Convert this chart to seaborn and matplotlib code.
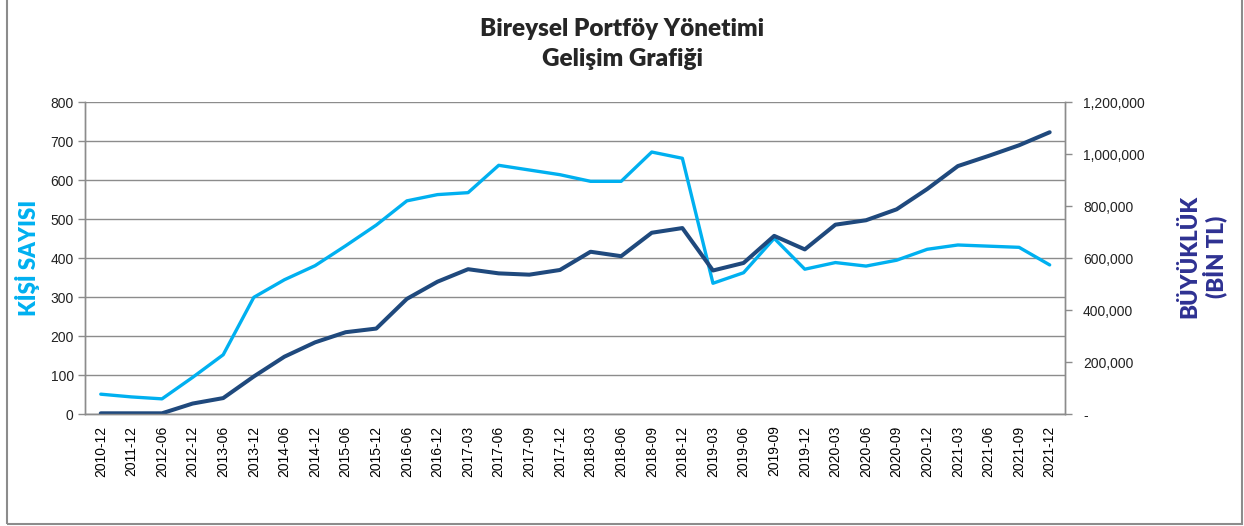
"""Bireysel portföy yönetimi gelişim grafiği: kişi sayısı ve büyüklük."""

import matplotlib.pyplot as plt
import numpy as np
import pandas as pd
import seaborn as sns
from matplotlib.patches import Rectangle
from matplotlib.ticker import FuncFormatter

PERIODS = [
    "2010-12", "2011-12", "2012-06", "2012-12", "2013-06", "2013-12",
    "2014-06", "2014-12", "2015-06", "2015-12", "2016-06", "2016-12",
    "2017-03", "2017-06", "2017-09", "2017-12", "2018-03", "2018-06",
    "2018-09", "2018-12", "2019-03", "2019-06", "2019-09", "2019-12",
    "2020-03", "2020-06", "2020-09", "2020-12", "2021-03", "2021-06",
    "2021-09", "2021-12",
]

# kişi sayısı (sol eksen)
KISI_SAYISI = [
    52, 45, 40, 95, 153, 300,
    345, 381, 432, 485, 547, 563,
    568, 638, 626, 614, 597, 597,
    672, 656, 336, 363, 451, 372,
    389, 380, 395, 423, 434, 431,
    428, 383,
]

# büyüklük, bin TL (sağ eksen)
BUYUKLUK = [
    4500, 4500, 4500, 42000, 63000, 146000,
    222000, 277000, 316000, 330000, 444000, 510000,
    558000, 542000, 537000, 555000, 625000, 608000,
    698000, 716000, 553000, 582000, 686000, 634000,
    729000, 746000, 788000, 866000, 954000, 993000,
    1034000, 1084000,
]

LIGHT_BLUE = "#00B0F0"
DARK_BLUE = "#1F497D"
GRID_GREY = "#8C8C8C"


def main() -> None:
    df = pd.DataFrame({"donem": PERIODS, "kisi": KISI_SAYISI, "buyukluk": BUYUKLUK})

    sns.set_theme(style="white")
    plt.rcParams["font.family"] = ["Liberation Sans", "DejaVu Sans"]

    fig = plt.figure(figsize=(12.44, 5.26), dpi=100)
    ax = fig.add_axes([0.0687, 0.212, 0.7874, 0.594])
    ax2 = ax.twinx()

    sns.lineplot(data=df, x="donem", y="kisi", ax=ax, color=LIGHT_BLUE, lw=2.4, sort=False)
    sns.lineplot(data=df, x="donem", y="buyukluk", ax=ax2, color=DARK_BLUE, lw=2.9, sort=False)

    n = len(PERIODS)
    ax.set_xlim(-0.5, n - 0.5)
    ax.set_ylim(0, 800)
    ax.set_yticks(np.arange(0, 801, 100))
    ax2.set_ylim(0, 1_200_000)
    ax2.set_yticks(np.arange(0, 1_200_001, 200_000))
    ax2.yaxis.set_major_formatter(
        FuncFormatter(lambda v, _: "-" if v == 0 else f"{v:,.0f}")
    )

    ax.grid(axis="y", color=GRID_GREY, lw=1)
    ax.set_axisbelow(True)
    ax.set_xticks(range(n))
    ax.set_xticklabels(PERIODS, rotation=90)
    ax.set_xticks(np.arange(-0.5, n), minor=True)
    ax.tick_params(axis="x", which="major", length=0, pad=8, labelsize=10, colors="black")
    ax.tick_params(axis="x", which="minor", length=5, width=1, color=GRID_GREY)
    ax.tick_params(axis="y", length=5, width=1, color=GRID_GREY, labelsize=10,
                   labelcolor="#222222", left=True)
    ax2.tick_params(axis="y", length=5, width=1, color=GRID_GREY, labelsize=10,
                    labelcolor="#222222", right=True, pad=8)

    for a in (ax, ax2):
        a.set_xlabel("")
        a.set_ylabel("")
        a.spines["top"].set_visible(False)
        for side in ("left", "right", "bottom"):
            a.spines[side].set_color(GRID_GREY)
            a.spines[side].set_linewidth(1)

    fig.text(0.5, 0.916, "Bireysel Portföy Yönetimi\nGelişim Grafiği",
             ha="center", va="center", fontsize=17.5, fontweight="heavy",
             family=["Lato", "DejaVu Sans"], linespacing=1.42)
    fig.text(0.022, 0.51, "KİŞİ SAYISI", rotation=90, ha="center", va="center",
             fontsize=16, fontweight="heavy", color=LIGHT_BLUE,
             family=["Lato", "DejaVu Sans"])
    fig.text(0.967, 0.512, "BÜYÜKLÜK\n(BİN TL)", rotation=90, ha="center", va="center",
             fontsize=16, fontweight="heavy", color="#2E3192",
             family=["Lato", "DejaVu Sans"], multialignment="center", linespacing=1.1)

    fig.patches.append(Rectangle((7 / 1244, 2 / 526), 1235 / 1244, 1.1,
                                 transform=fig.transFigure, fill=False,
                                 edgecolor="#8C8C8C", lw=1.5))

    fig.savefig("out.png", dpi=100)
    plt.close(fig)


if __name__ == "__main__":
    main()
